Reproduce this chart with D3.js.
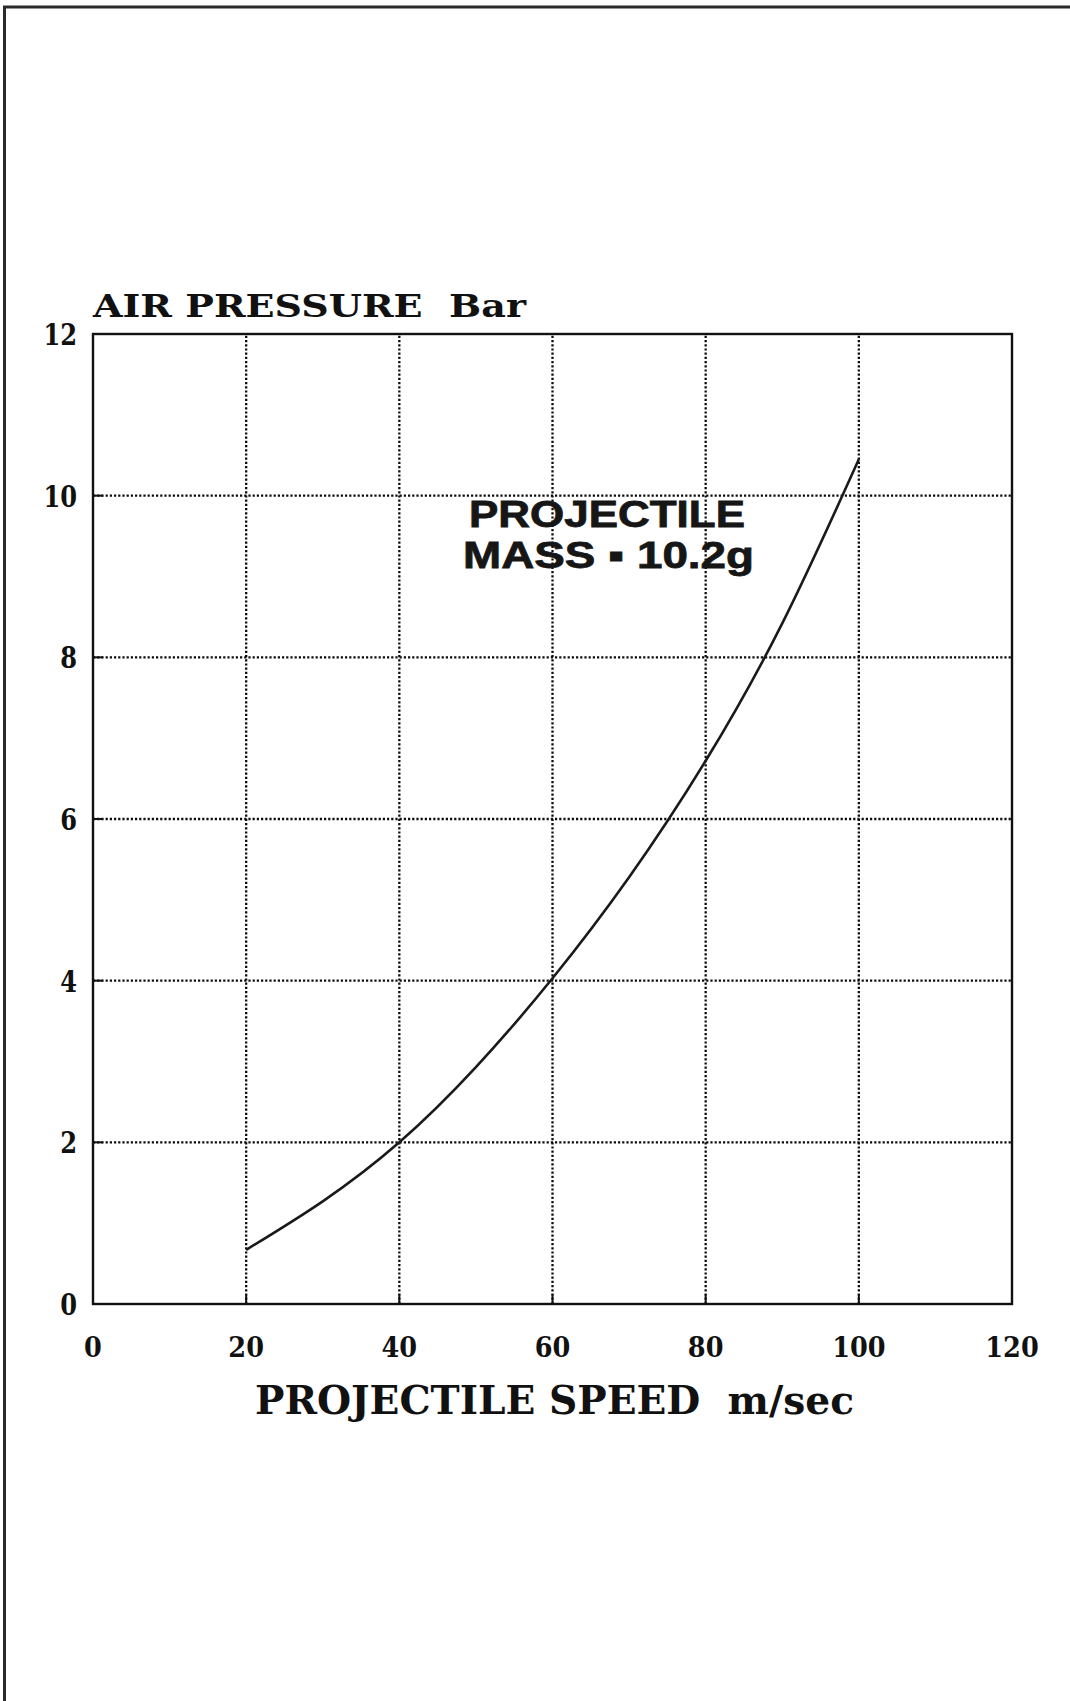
<!DOCTYPE html>
<html>
<head>
<meta charset="utf-8">
<script src="https://cdn.jsdelivr.net/npm/d3@7/dist/d3.min.js"></script>
<style>
  html, body { margin: 0; padding: 0; background: #fff; }
  svg { display: block; }
  text { white-space: pre; }
</style>
</head>
<body>
<div id="chart"></div>
<script>
// Projectile speed (m/sec) against required air pressure (bar)
const speeds    = [20, 30, 40, 50, 60, 70, 80, 90, 100];
const pressures = [0.67, 1.27, 2.0, 2.93, 4.03, 5.28, 6.72, 8.42, 10.45];

const xTicks = [0, 20, 40, 60, 80, 100, 120];
const yTicks = [0, 2, 4, 6, 8, 10, 12];

const yTitle = "AIR PRESSURE  Bar";
const xTitle = "PROJECTILE SPEED  m/sec";
const noteLines = ["PROJECTILE", "MASS \u25AA 10.2g"];

const W = 1070, H = 1701;
const plot = { left: 93, top: 334, right: 1012, bottom: 1304 };

const svg = d3.select("#chart").append("svg")
  .attr("width", W).attr("height", H)
  .attr("viewBox", `0 0 ${W} ${H}`);

svg.append("rect").attr("width", W).attr("height", H).attr("fill", "#fff");

// page frame (top and left edges)
svg.append("path")
  .attr("d", `M4.5,${H} L4.5,7 L${W},7`)
  .attr("fill", "none").attr("stroke", "#2a2a2a").attr("stroke-width", 3);

const x = d3.scaleLinear().domain([0, 120]).range([plot.left, plot.right]);
const y = d3.scaleLinear().domain([0, 12]).range([plot.bottom, plot.top]);

// dotted grid
const grid = svg.append("g")
  .attr("stroke", "#0d0d0d").attr("stroke-width", 2.3)
  .attr("stroke-dasharray", "2.2,2");
grid.selectAll("line.v").data(xTicks.filter(d => d > 0 && d < 120)).join("line")
  .attr("class", "v")
  .attr("x1", d => x(d)).attr("x2", d => x(d))
  .attr("y1", y(0)).attr("y2", y(12));
grid.selectAll("line.h").data(yTicks.filter(d => d > 0 && d < 12)).join("line")
  .attr("class", "h")
  .attr("x1", x(0)).attr("x2", x(120))
  .attr("y1", d => y(d)).attr("y2", d => y(d));

// short solid inner ticks
const tickLen = 10;
const ticks = svg.append("g").attr("stroke", "#111").attr("stroke-width", 2);
ticks.selectAll("line.xt").data(xTicks.filter(d => d > 0 && d < 120)).join("line")
  .attr("x1", d => x(d)).attr("x2", d => x(d))
  .attr("y1", y(0)).attr("y2", y(0) - tickLen);
ticks.selectAll("line.yt").data(yTicks.filter(d => d > 0 && d < 12)).join("line")
  .attr("x1", x(0)).attr("x2", x(0) + tickLen)
  .attr("y1", d => y(d)).attr("y2", d => y(d));

// plot border
svg.append("rect")
  .attr("x", plot.left).attr("y", plot.top)
  .attr("width", plot.right - plot.left).attr("height", plot.bottom - plot.top)
  .attr("fill", "none").attr("stroke", "#111").attr("stroke-width", 2.4);

// pressure curve
const line = d3.line()
  .x((d, i) => x(speeds[i]))
  .y(d => y(d))
  .curve(d3.curveNatural);
svg.append("path")
  .datum(pressures)
  .attr("d", line)
  .attr("fill", "none").attr("stroke", "#1a1a1a").attr("stroke-width", 2.6);

// tick labels
const tickFont = "'DejaVu Serif', serif";
svg.append("g").selectAll("text").data(yTicks).join("text")
  .attr("x", 77).attr("y", d => y(d) + 11)
  .attr("text-anchor", "end")
  .attr("font-family", tickFont).attr("font-weight", "bold")
  .attr("font-size", 29).attr("fill", "#111")
  .attr("textLength", d => String(d).length * 16.8)
  .attr("lengthAdjust", "spacingAndGlyphs")
  .text(d => d);

svg.append("g").selectAll("text").data(xTicks).join("text")
  .attr("x", d => x(d)).attr("y", y(0) + 53)
  .attr("text-anchor", "middle")
  .attr("font-family", tickFont).attr("font-weight", "bold")
  .attr("font-size", 27).attr("fill", "#111")
  .attr("textLength", d => String(d).length * 17.8)
  .attr("lengthAdjust", "spacingAndGlyphs")
  .text(d => d);

// axis titles
svg.append("text")
  .attr("x", plot.left).attr("y", 317)
  .attr("font-family", tickFont).attr("font-weight", "bold")
  .attr("font-size", 32).attr("fill", "#111")
  .attr("textLength", 433).attr("lengthAdjust", "spacingAndGlyphs")
  .text(yTitle);

svg.append("text")
  .attr("x", 255).attr("y", 1414)
  .attr("font-family", tickFont).attr("font-weight", "bold")
  .attr("font-size", 40).attr("fill", "#111")
  .attr("textLength", 599).attr("lengthAdjust", "spacingAndGlyphs")
  .text(xTitle);

// annotation
const note = svg.append("g")
  .attr("font-family", "'Liberation Sans', Arial, sans-serif")
  .attr("font-weight", "bold").attr("font-size", 37).attr("fill", "#161616")
  .attr("stroke", "#161616").attr("stroke-width", 0.8);
note.append("text")
  .attr("x", 469).attr("y", 527)
  .attr("textLength", 276).attr("lengthAdjust", "spacingAndGlyphs")
  .text(noteLines[0]);
note.append("text")
  .attr("x", 463).attr("y", 568)
  .attr("textLength", 291).attr("lengthAdjust", "spacingAndGlyphs")
  .text(noteLines[1]);
</script>
</body>
</html>
